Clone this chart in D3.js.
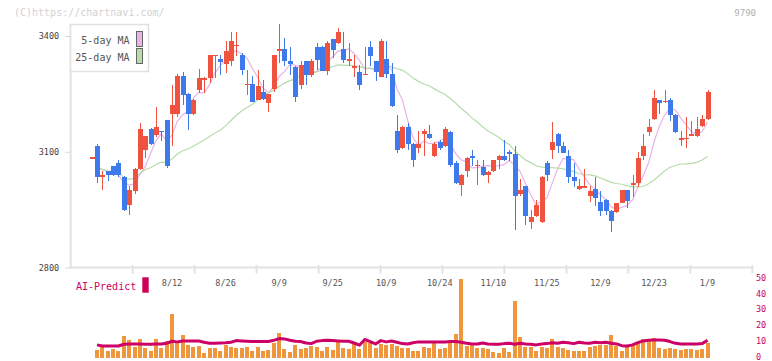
<!DOCTYPE html>
<html><head><meta charset="utf-8">
<script src="https://cdn.jsdelivr.net/npm/d3@7"></script>
<style>body{margin:0;background:#fff;} svg{display:block;}</style>
</head><body>
<svg id="c" width="772" height="361"></svg>
<script>
// ---- data ----
const opens  = [3085,3116,3034,3051,3062,3071,3035,2963,2998,3054,3104,3160,3144,3154,3181,3198,3198,3297,3250,3198,
                3259,3290,3290,3350,3340,3328,3334,3376,3351,3275,3276,3233,3256,3226,3263,3365,3366,3335,3320,3273,
                3335,3299,3372,3372,3310,3392,3381,3366,3339,3320,3307,3301,3372,3335,3295,3341,3302,3154,3109,3165,
                3121,3109,3145,3147,3088,3126,3114,3152,3072,3013,3049,3090,3065,3061,3039,3049,3078,3090,3100,3095,
                2990,3010,2917,2933,2917,3072,3104,3147,3116,3090,3035,3003,3009,2985,3004,2971,2976,2947,2943,2967,
                3000,3013,3018,3088,3150,3184,3233,3231,3233,3196,3134,3135,3145,3140,3167,3184];
const highs  = [3086,3120,3049,3051,3064,3079,3036,3010,3058,3174,3142,3162,3216,3155,3182,3272,3302,3306,3251,3238,
                3315,3295,3352,3352,3351,3388,3411,3411,3357,3312,3297,3312,3286,3250,3351,3431,3394,3371,3322,3334,
                3336,3341,3383,3373,3387,3393,3421,3410,3383,3352,3324,3371,3387,3336,3392,3387,3329,3196,3166,3174,
                3122,3154,3160,3170,3126,3131,3165,3153,3077,3042,3086,3105,3078,3079,3049,3079,3091,3131,3105,3116,
                3030,3011,2950,2976,3036,3077,3176,3148,3126,3105,3072,3030,3056,3010,3035,2997,2977,2948,2968,3001,
                3001,3041,3100,3147,3185,3260,3235,3260,3240,3197,3155,3191,3180,3191,3196,3260];
const lows   = [3084,3019,3002,3023,3037,3034,2947,2937,2990,3052,3083,3117,3138,3127,3059,3114,3189,3220,3157,3196,
                3252,3252,3278,3291,3299,3305,3322,3347,3298,3247,3228,3233,3233,3204,3256,3329,3322,3299,3230,3263,
                3273,3295,3312,3308,3299,3344,3380,3331,3323,3295,3259,3301,3323,3284,3295,3290,3215,3098,3108,3104,
                3060,3098,3088,3134,3087,3104,3113,3060,3017,2985,3034,3064,3013,3038,3018,3048,3055,3075,3075,2898,
                2985,2911,2901,2932,2916,3023,3082,3098,3097,3018,3008,3002,3008,2969,2959,2933,2937,2891,2942,2966,
                2953,2982,3008,3078,3140,3183,3199,3226,3179,3149,3114,3109,3140,3139,3163,3183];
const closes = [3086,3034,3041,3039,3039,3039,2950,3000,3056,3160,3141,3119,3165,3151,3062,3222,3297,3248,3198,3235,
                3291,3291,3351,3351,3333,3361,3387,3377,3312,3276,3230,3271,3238,3250,3351,3366,3334,3328,3243,3325,
                3299,3335,3338,3310,3383,3365,3410,3338,3340,3321,3274,3302,3349,3306,3387,3301,3219,3104,3165,3119,
                3078,3121,3154,3135,3121,3109,3160,3065,3018,3041,3085,3083,3066,3039,3047,3078,3090,3078,3093,2985,
                3000,2933,2932,2962,3035,3039,3126,3114,3098,3034,3023,3010,3010,2997,2979,2946,2946,2920,2967,3000,
                2972,3020,3085,3116,3165,3240,3226,3232,3194,3150,3135,3136,3146,3160,3185,3255];

// AI-Predict panel (starts at the 2nd candle)
const barValues = [null,
  5.1,7.6,4.7,5.7,4.7,14.0,11.4,7.2,12.1,6.4,4.7,12.1,6.4,11.0,28.0,9.3,14.6,8.3,6.8,7.6,
  3.4,6.4,6.4,4.7,8.3,7.2,6.4,6.4,6.8,4.7,6.8,4.7,5.1,9.7,16.1,5.5,4.0,8.3,5.7,6.1,
  7.6,6.8,4.7,6.8,5.1,10.4,6.4,5.5,10.4,5.7,10.4,9.3,6.1,8.9,8.3,8.9,7.6,6.4,6.4,4.7,
  4.7,6.8,6.4,9.3,5.7,6.4,9.3,15.3,50.2,7.6,8.3,6.4,6.4,5.7,4.0,3.4,6.4,4.0,36.2,13.3,
  7.2,6.8,4.7,7.2,6.1,12.3,7.2,6.4,5.1,4.7,4.7,4.7,6.8,7.8,8.3,8.3,14.6,7.8,4.7,6.8,
  8.7,9.7,11.9,11.9,12.7,6.4,5.7,6.4,5.7,5.1,5.5,5.5,5.1,5.7,9.7];
const predictValues = [null,
  8.3,7.6,7.6,7.6,7.6,8.7,8.9,8.9,8.9,8.7,8.7,8.9,8.9,9.3,10.6,10.2,10.8,10.8,10.8,10.8,
  10.0,9.3,9.3,9.5,9.7,10.0,11.0,10.8,10.6,10.4,10.4,10.4,10.4,11.2,12.3,12.1,11.2,10.6,10.4,9.5,
  9.1,10.6,11.0,11.2,11.0,10.8,10.6,10.6,9.5,8.1,11.7,10.4,8.9,11.0,10.2,10.8,10.0,9.1,8.9,9.7,
  10.2,10.2,10.2,10.2,10.2,10.2,10.4,10.4,10.0,9.3,8.9,8.9,9.5,8.9,8.7,8.7,9.1,9.3,8.7,9.3,
  8.9,8.7,8.3,8.9,9.1,9.7,9.3,10.0,9.7,9.1,10.0,9.5,9.3,10.0,9.7,10.0,9.3,8.9,7.8,7.6,
  8.3,9.7,10.8,11.2,11.4,11.4,11.2,10.4,9.3,8.9,8.9,8.9,8.9,9.1,11.2];

const xLabels   = ["8/12","8/26","9/9","9/25","10/9","10/24","11/10","11/25","12/9","12/23","1/9"];
const xLabelIdx = [15,25,35,45,55,65,75,85,95,105,115];
const yTicks    = [2800,3100,3400];
const rightTicks = [0,10,20,30,40,50];
const legendNames = ["5-day MA","25-day MA"];
const maWindows = [5,25];

// ---- drawing ----
const svg = d3.select("#c");
const MONO = "'DejaVu Sans Mono', 'Liberation Mono', monospace";
const RED = "#ef5340", BLUE = "#3f7aed";
const MA_COLORS = ["#e9b3ea","#b7dcac"];

const N = closes.length;
const x = d3.scaleLinear().domain([-3.92, 123.36]).range([70.7, 752.3]);
const y = d3.scaleLinear().domain([2800, 3400]).range([267.5, 36]);
const yb = d3.scaleLinear().domain([0, 50]).range([358, 279]);
const tickScale = d3.scaleLinear().domain([0, 11]).range([70.7, 752.3]);

// header texts
svg.append("text").attr("x", 14).attr("y", 16).text("(C)https://chartnavi.com/")
  .attr("font-family", MONO).attr("font-size", 10).attr("fill", "#d2d2d2");
svg.append("text").attr("x", 756).attr("y", 16).attr("text-anchor", "end").text("9790")
  .attr("font-family", MONO).attr("font-size", 9).attr("fill", "#b0b0b0");

// axes lines
svg.append("line").attr("x1", 70.7).attr("x2", 70.7).attr("y1", 24).attr("y2", 268.5)
  .attr("stroke", "#e2e2e2").attr("stroke-width", 2);
svg.append("line").attr("x1", 70).attr("x2", 752.3).attr("y1", 267.5).attr("y2", 267.5)
  .attr("stroke", "#e2e2e2").attr("stroke-width", 2);
svg.append("g").selectAll("line").data(d3.range(1, 12)).join("line")
  .attr("x1", d => tickScale(d)).attr("x2", d => tickScale(d))
  .attr("y1", 265).attr("y2", 273.5).attr("stroke", "#e2e2e2").attr("stroke-width", 2);

// y axis
const yAxis = svg.append("g").attr("transform", "translate(70.7,0)")
  .call(d3.axisLeft(y).tickValues(yTicks).tickSize(5.5).tickPadding(6).tickFormat(d3.format("d")));
yAxis.select(".domain").remove();
yAxis.selectAll(".tick line").attr("stroke", "#d8d8d8");
yAxis.selectAll(".tick text").attr("font-family", MONO).attr("font-size", 8.5).attr("fill", "#444");

// x labels
svg.append("g").selectAll("text").data(xLabels).join("text")
  .attr("x", (d, k) => x(xLabelIdx[k])).attr("y", 285.5).attr("text-anchor", "middle")
  .attr("font-family", MONO).attr("font-size", 8.5).attr("fill", "#555").text(d => d);

// moving averages (partial windows at start)
function movingAvg(win) {
  return closes.map((c, i) => d3.mean(closes.slice(Math.max(0, i - win + 1), i + 1)));
}
maWindows.forEach((w, k) => {
  const ma = movingAvg(w);
  const line = d3.line().x((d, i) => x(i + 1)).y(d => y(d));
  svg.append("path").attr("d", line(ma.slice(1))).attr("fill", "none")
    .attr("stroke", MA_COLORS[k]).attr("stroke-width", 1.2);
});

// candles
const idx = d3.range(N);
const cg = svg.append("g").attr("shape-rendering", "crispEdges");
cg.selectAll("line").data(idx).join("line")
  .attr("x1", i => Math.round(x(i)) + 0.5).attr("x2", i => Math.round(x(i)) + 0.5)
  .attr("y1", i => y(highs[i])).attr("y2", i => y(lows[i]))
  .attr("stroke", i => closes[i] >= opens[i] ? RED : BLUE).attr("stroke-width", 1);
cg.selectAll("rect").data(idx).join("rect")
  .attr("x", i => Math.round(x(i)) - 2).attr("width", 5)
  .attr("y", i => y(Math.max(opens[i], closes[i])))
  .attr("height", i => Math.max(1.5, Math.abs(y(opens[i]) - y(closes[i]))))
  .attr("fill", i => closes[i] >= opens[i] ? RED : BLUE);

// legend
const lg = svg.append("g");
lg.append("rect").attr("x", 70.5).attr("y", 24.5).attr("width", 78).attr("height", 47)
  .attr("fill", "#fff").attr("stroke", "#e0e0e0").attr("stroke-width", 1.5);
legendNames.forEach((name, k) => {
  lg.append("text").attr("x", 129.5).attr("y", 43.5 + k * 17).attr("text-anchor", "end")
    .attr("font-family", MONO).attr("font-size", 10).attr("fill", "#555").text(name);
  lg.append("rect").attr("x", 136.5).attr("y", 31.5 + k * 17).attr("width", 6).attr("height", 15)
    .attr("fill", MA_COLORS[k]).attr("stroke", "#666").attr("stroke-width", 1);
});

// AI-Predict panel
svg.append("text").attr("x", 76).attr("y", 289.5).text("AI-Predict")
  .attr("font-family", MONO).attr("font-size", 10).attr("fill", "#cc0066");
svg.append("rect").attr("x", 142.3).attr("y", 277.3).attr("width", 6.4).attr("height", 15.4)
  .attr("fill", "#cc0055");

const barIdx = idx.filter(i => barValues[i] != null);
svg.append("g").attr("shape-rendering", "crispEdges").selectAll("rect").data(barIdx).join("rect")
  .attr("x", i => Math.round(x(i)) - 2).attr("width", 4)
  .attr("y", i => yb(barValues[i])).attr("height", i => yb(0) - yb(barValues[i]))
  .attr("fill", "#f0963c");

const pIdx = idx.filter(i => predictValues[i] != null);
svg.append("path").attr("d", d3.line().x(i => x(i)).y(i => yb(predictValues[i]))(pIdx))
  .attr("fill", "none").attr("stroke", "#cc0066").attr("stroke-width", 3).attr("stroke-linejoin", "round");

const rAxis = svg.append("g").attr("transform", "translate(752,-1.5)")
  .call(d3.axisRight(yb).tickValues(rightTicks).tickSize(0).tickPadding(4));
rAxis.select(".domain").remove();
rAxis.selectAll(".tick text").attr("font-family", MONO).attr("font-size", 8.5).attr("fill", "#cc0066");
</script>
</body></html>
